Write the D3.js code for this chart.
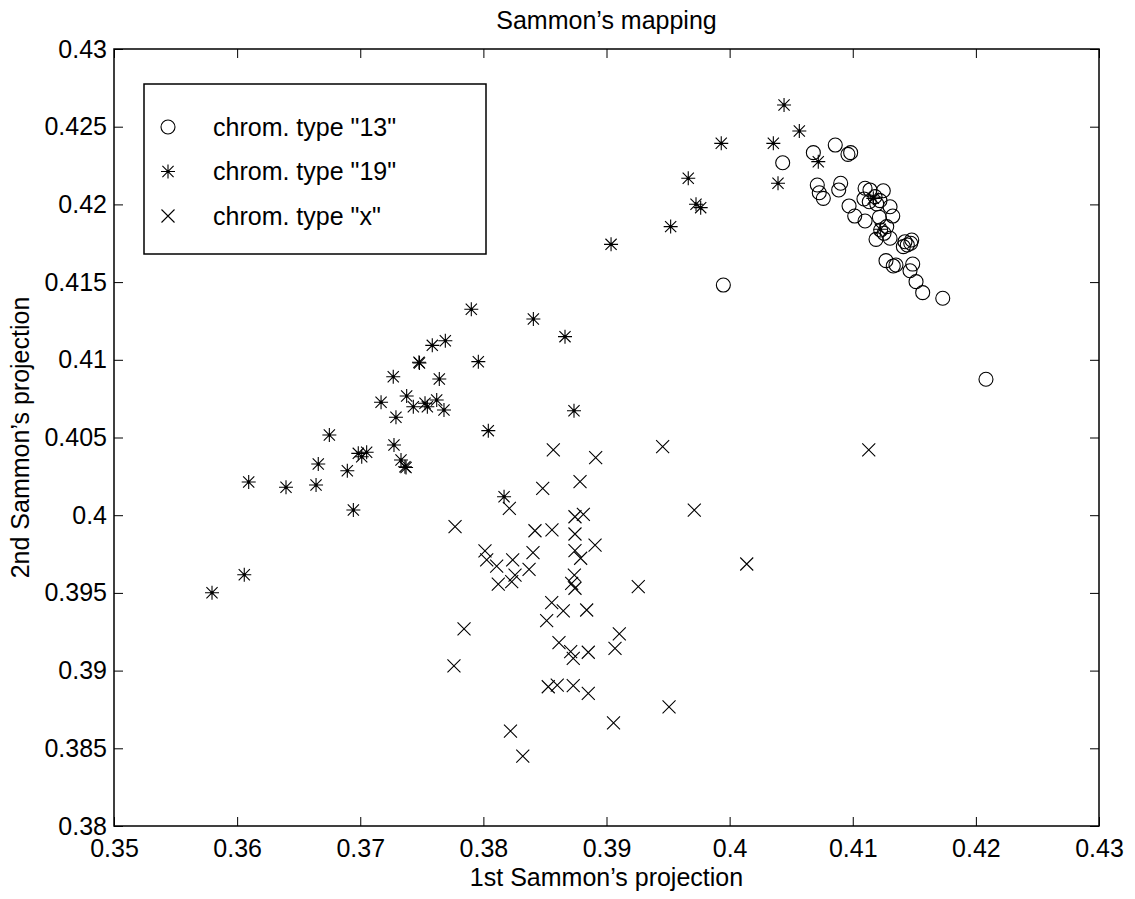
<!DOCTYPE html>
<html>
<head>
<meta charset="utf-8">
<script src="https://cdn.jsdelivr.net/npm/d3@7"></script>
<style>
  body { margin: 0; background: #fff; }
  text { font-family: "Liberation Sans", Arial, Helvetica, sans-serif; fill: #000; }
</style>
</head>
<body>
<svg id="chart" width="1135" height="899"></svg>
<script>
// chrom. type "13"
const type13 = [
  [0.40858, 0.42382], [0.40680, 0.42333], [0.40961, 0.42322], [0.40983, 0.42333],
  [0.40431, 0.42268], [0.40712, 0.42125], [0.40728, 0.42075], [0.40761, 0.42039],
  [0.40902, 0.42136], [0.40886, 0.42093], [0.40970, 0.41990], [0.41016, 0.41925],
  [0.41100, 0.41893], [0.41100, 0.42104], [0.41140, 0.42093], [0.41091, 0.42035],
  [0.41181, 0.42050], [0.41248, 0.42088], [0.41134, 0.42017], [0.41221, 0.42024],
  [0.41195, 0.42003], [0.41303, 0.41985], [0.41325, 0.41925], [0.41216, 0.41917],
  [0.41276, 0.41857], [0.41227, 0.41835], [0.41189, 0.41775], [0.41303, 0.41782],
  [0.41254, 0.41814], [0.41424, 0.41760], [0.41443, 0.41739], [0.41471, 0.41750],
  [0.41411, 0.41728], [0.41479, 0.41771], [0.41270, 0.41638], [0.41329, 0.41604],
  [0.41351, 0.41610], [0.41487, 0.41616], [0.41465, 0.41573], [0.41514, 0.41503],
  [0.41568, 0.41432], [0.41731, 0.41396], [0.42082, 0.40875], [0.39949, 0.41481]
];

// chrom. type "19"
const type19 = [
  [0.40442, 0.42640], [0.40566, 0.42472], [0.39932, 0.42393], [0.40355, 0.42393],
  [0.40720, 0.42275], [0.39664, 0.42168], [0.40393, 0.42136], [0.39727, 0.42001],
  [0.39765, 0.41979], [0.39521, 0.41857], [0.41167, 0.42039], [0.41224, 0.41840],
  [0.39037, 0.41743], [0.37902, 0.41325], [0.38406, 0.41263], [0.38663, 0.41149],
  [0.37585, 0.41093], [0.37691, 0.41123], [0.37477, 0.40984], [0.37481, 0.40979],
  [0.37959, 0.40988], [0.37268, 0.40891], [0.37642, 0.40876], [0.37169, 0.40727],
  [0.37377, 0.40767], [0.37431, 0.40698], [0.37526, 0.40720], [0.37545, 0.40698],
  [0.37621, 0.40741], [0.37680, 0.40677], [0.37290, 0.40630], [0.38040, 0.40544],
  [0.36749, 0.40516], [0.37274, 0.40452], [0.36984, 0.40398], [0.37052, 0.40405],
  [0.37012, 0.40376], [0.36659, 0.40329], [0.37331, 0.40355], [0.37363, 0.40312],
  [0.37372, 0.40307], [0.36895, 0.40286], [0.36094, 0.40214], [0.36397, 0.40180],
  [0.36641, 0.40194], [0.36944, 0.40033], [0.38168, 0.40119], [0.36058, 0.39617],
  [0.35796, 0.39501], [0.38736, 0.40672]
];

// chrom. type "x"
const typeX = [
  [0.38568, 0.40420], [0.38482, 0.40173], [0.38211, 0.40044], [0.37770, 0.39926],
  [0.38419, 0.39900], [0.38557, 0.39905], [0.38013, 0.39770], [0.38027, 0.39712],
  [0.38108, 0.39673], [0.38238, 0.39712], [0.38403, 0.39759], [0.38371, 0.39652],
  [0.38121, 0.39557], [0.38230, 0.39572], [0.38257, 0.39615], [0.38912, 0.40370],
  [0.39456, 0.40441], [0.38785, 0.40216], [0.38744, 0.39990], [0.38812, 0.40006],
  [0.39713, 0.40033], [0.38744, 0.39879], [0.38907, 0.39808], [0.38744, 0.39772],
  [0.38790, 0.39723], [0.40139, 0.39686], [0.38739, 0.39615], [0.39258, 0.39540],
  [0.38744, 0.39530], [0.38717, 0.39562], [0.38555, 0.39437], [0.38649, 0.39385],
  [0.38839, 0.39390], [0.38514, 0.39321], [0.39104, 0.39236], [0.39069, 0.39143],
  [0.38614, 0.39180], [0.38709, 0.39122], [0.38730, 0.39079], [0.38852, 0.39118],
  [0.38527, 0.38896], [0.38600, 0.38907], [0.38730, 0.38903], [0.38852, 0.38854],
  [0.39508, 0.38766], [0.39057, 0.38663], [0.37761, 0.39030], [0.37843, 0.39268],
  [0.38220, 0.38611], [0.38320, 0.38450], [0.41130, 0.40420]
];

const xTicks = [0.35, 0.36, 0.37, 0.38, 0.39, 0.4, 0.41, 0.42, 0.43];
const xTickLabels = ["0.35", "0.36", "0.37", "0.38", "0.39", "0.4", "0.41", "0.42", "0.43"];
const yTicks = [0.38, 0.385, 0.39, 0.395, 0.4, 0.405, 0.41, 0.415, 0.42, 0.425, 0.43];
const yTickLabels = ["0.38", "0.385", "0.39", "0.395", "0.4", "0.405", "0.41", "0.415", "0.42", "0.425", "0.43"];
const legendLabels = ['chrom. type "13"', 'chrom. type "19"', 'chrom. type "x"'];

const svg = d3.select("#chart");
const margin = { top: 49, right: 36, bottom: 73, left: 114 };
const width = +svg.attr("width"), height = +svg.attr("height");
const fontSize = 25;

const x = d3.scaleLinear().domain([0.35, 0.43]).range([margin.left, width - margin.right]);
const y = d3.scaleLinear().domain([0.38, 0.43]).range([height - margin.bottom, margin.top]);

// marker shapes
function circleMark(g, cx, cy) {
  g.append("circle").attr("cx", cx).attr("cy", cy).attr("r", 7)
    .attr("fill", "none").attr("stroke", "#000").attr("stroke-width", 1.1);
}
function starMark(g, cx, cy) {
  const r = 7, d = 5.6;
  g.append("path")
    .attr("d", `M${cx},${cy - r}V${cy + r}M${cx - r},${cy}H${cx + r}` +
      `M${cx - d},${cy - d}L${cx + d},${cy + d}M${cx - d},${cy + d}L${cx + d},${cy - d}`)
    .attr("stroke", "#000").attr("stroke-width", 1.1).attr("fill", "none");
  g.append("circle").attr("cx", cx).attr("cy", cy).attr("r", 1.6).attr("fill", "#000");
}
function crossMark(g, cx, cy) {
  const r = 6.5;
  g.append("path")
    .attr("d", `M${cx - r},${cy - r}L${cx + r},${cy + r}M${cx - r},${cy + r}L${cx + r},${cy - r}`)
    .attr("stroke", "#000").attr("stroke-width", 1.1).attr("fill", "none");
}

// axes with inward ticks
svg.append("g")
  .attr("transform", `translate(0,${height - margin.bottom})`)
  .call(d3.axisBottom(x).tickValues(xTicks).tickFormat((d, i) => xTickLabels[i])
    .tickSizeInner(-9).tickSizeOuter(0).tickPadding(13))
  .call(g => g.select(".domain").remove());
svg.append("g")
  .attr("transform", `translate(0,${margin.top})`)
  .call(d3.axisTop(x).tickValues(xTicks).tickFormat("").tickSizeInner(-9).tickSizeOuter(0))
  .call(g => g.select(".domain").remove());
svg.append("g")
  .attr("transform", `translate(${margin.left},0)`)
  .call(d3.axisLeft(y).tickValues(yTicks).tickFormat((d, i) => yTickLabels[i])
    .tickSizeInner(-9).tickSizeOuter(0).tickPadding(7))
  .call(g => g.select(".domain").remove());
svg.append("g")
  .attr("transform", `translate(${width - margin.right},0)`)
  .call(d3.axisRight(y).tickValues(yTicks).tickFormat("").tickSizeInner(-9).tickSizeOuter(0))
  .call(g => g.select(".domain").remove());

svg.selectAll(".tick line").attr("stroke", "#000").attr("stroke-width", 1);
svg.selectAll(".tick text")
  .attr("font-size", fontSize)
  .attr("font-family", '"Liberation Sans", Arial, Helvetica, sans-serif')
  .attr("fill", "#000");

svg.append("rect")
  .attr("x", margin.left).attr("y", margin.top)
  .attr("width", width - margin.left - margin.right)
  .attr("height", height - margin.top - margin.bottom)
  .attr("fill", "none").attr("stroke", "#000").attr("stroke-width", 1.5);

// points
const pts = svg.append("g");
type13.forEach(d => circleMark(pts, x(d[0]), y(d[1])));
type19.forEach(d => starMark(pts, x(d[0]), y(d[1])));
typeX.forEach(d => crossMark(pts, x(d[0]), y(d[1])));

// legend
const legend = svg.append("g");
legend.append("rect")
  .attr("x", 144).attr("y", 84).attr("width", 342).attr("height", 170)
  .attr("fill", "#fff").attr("stroke", "#000").attr("stroke-width", 1.5);
const marks = [circleMark, starMark, crossMark];
legendLabels.forEach((label, i) => {
  const ly = 127 + i * 44.5;
  marks[i](legend, 168, ly);
  legend.append("text")
    .attr("x", 213).attr("y", ly).attr("dy", "0.35em")
    .attr("font-size", fontSize)
    .text(label);
});

// titles
svg.append("text")
  .attr("x", (margin.left + width - margin.right) / 2).attr("y", 29)
  .attr("text-anchor", "middle").attr("font-size", fontSize)
  .text("Sammon\u2019s mapping");
svg.append("text")
  .attr("x", (margin.left + width - margin.right) / 2).attr("y", 886)
  .attr("text-anchor", "middle").attr("font-size", fontSize)
  .text("1st Sammon\u2019s projection");
svg.append("text")
  .attr("transform", `translate(29,${(margin.top + height - margin.bottom) / 2}) rotate(-90)`)
  .attr("text-anchor", "middle").attr("font-size", fontSize)
  .text("2nd Sammon\u2019s projection");
</script>
</body>
</html>
